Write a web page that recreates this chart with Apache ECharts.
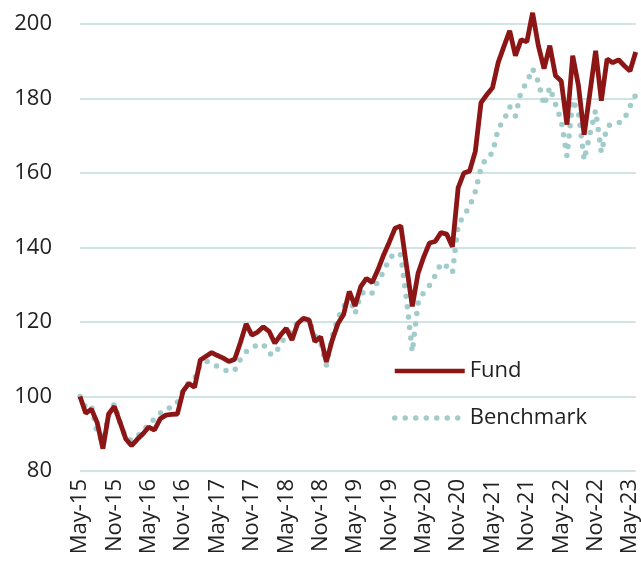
<!DOCTYPE html>
<html>
<head>
	<meta charset="utf-8">
	<title>fund vs benchmark</title>
	<script type="text/javascript" src="https://cdn.jsdelivr.net/npm/echarts@6/dist/echarts.min.js"></script>
	<style>
		html, body { margin: 0; padding: 0; background: #fff; }
	</style>
</head>
<body>
	<div id="main" style="width: 641px;height:564px;"></div>
	<script type="text/javascript">
		// monthly index, May-15 = 100
		var monthNames = ['Jan','Feb','Mar','Apr','May','Jun','Jul','Aug','Sep','Oct','Nov','Dec'];
		var fund = [
			100, 95.5, 96.6, 93, 86, 95.3, 97.3, 93, 88.6, 86.8,
			88.5, 90, 91.8, 91, 94, 95, 95.2, 95.3, 101.5, 103.5,
			102.5, 109.8, 110.8, 111.8, 111, 110.3, 109.4, 110, 114.5, 119.5,
			116.5, 117.3, 118.7, 117.5, 114.3, 116.5, 118.3, 115.2, 119.6, 121,
			120.5, 114.7, 116, 109.3, 115, 119.5, 122, 128.2, 124.3, 129.5,
			131.7, 130.6, 134, 138, 141.5, 145.2, 145.8, 135, 124.2, 133,
			137.5, 141.2, 141.6, 144, 143.6, 140.2, 156, 160, 160.5, 165.8,
			178.9, 181, 182.9, 189.7, 194, 198.2, 191.5, 195.8, 195.2, 203,
			194.2, 188, 194.2, 186.1, 184.7, 173, 191.5, 183.5, 170.3, 181.5,
			192.8, 179.4, 190.6, 189.6, 190.4, 188.8, 187.4, 192.5
		];
		var benchmark = [
			100, 97, 97.5, 90, 88, 95, 98, 93, 88.8, 88.3,
			89.5, 90.4, 93, 93.8, 95.5, 96.8, 97, 98.5, 101.5, 103.8,
			104.8, 108.5, 109.5, 109, 108, 107.3, 106.6, 107, 110, 112,
			113, 114, 114, 111.5, 111.2, 114, 116.5, 117.8, 120, 120.6,
			120.4, 116.3, 114.5, 108.4, 116, 121, 124, 127, 122.2, 127.5,
			128.5, 127.8, 131, 133.5, 137, 138.6, 138, 126, 112, 125,
			128, 129.8, 132.5, 135.8, 134.9, 133.2, 146, 148.6, 151, 155,
			161.4, 164.3, 165.3, 172, 174.2, 177.8, 175.3, 182, 184.3, 188,
			184.5, 178.2, 183, 178.5, 174, 164.5, 179.6, 176.3, 163.5, 170.5,
			176.8, 165.5, 172.5, 173.3, 173.4, 174.4, 177.9, 181
		];

		var months = [];
		for (let i = 0; i < fund.length; i++) {
			let m = (4 + i) % 12;
			let y = 15 + Math.floor((4 + i) / 12);
			months.push(monthNames[m] + '-' + y);
		}

		var FONT = 'Open Sans';
		var RED = '#8c1515';
		var TEAL = '#a2cccc';
		var dotted = { color: TEAL, width: 5.5, type: [0, 10.5], cap: 'round' };

		var myChart = echarts.init(document.getElementById('main'));

		var option = {
			animation: false,
			grid: { left: 80, right: 5, top: 24, bottom: 93 },
			legend: {
				data: [
					{ name: 'Fund', lineStyle: { color: RED, width: 4.5 } },
					{ name: 'Benchmark', lineStyle: dotted }
				],
				orient: 'vertical',
				left: 392,
				top: 360,
				padding: 0,
				itemWidth: 70,
				itemHeight: 14,
				itemGap: 25,
				itemStyle: { opacity: 0 },
				textStyle: { fontSize: 22, color: '#222', fontFamily: FONT }
			},
			xAxis: {
				type: 'category',
				data: months,
				boundaryGap: false,
				axisLine: { show: false },
				axisTick: { show: false },
				axisLabel: { interval: 5, rotate: 90, fontSize: 22, color: '#222', margin: 8, fontFamily: FONT },
				splitLine: { show: false }
			},
			yAxis: {
				type: 'value',
				min: 80,
				max: 200,
				interval: 20,
				axisLabel: { fontSize: 22, color: '#222', margin: 28, fontFamily: FONT },
				splitLine: { lineStyle: { color: '#d0e4e4', width: 2 } }
			},
			series: [{
				name: 'Fund',
				type: 'line',
				data: fund,
				symbol: 'none',
				clip: false,
				z: 3,
				lineStyle: { color: RED, width: 4.8 },
				itemStyle: { color: RED }
			},
			{
				name: 'Benchmark',
				type: 'line',
				data: benchmark,
				symbol: 'none',
				clip: false,
				z: 2,
				lineStyle: dotted,
				itemStyle: { color: TEAL }
			}]
		};

		myChart.setOption(option);
	</script>
</body>
</html>
